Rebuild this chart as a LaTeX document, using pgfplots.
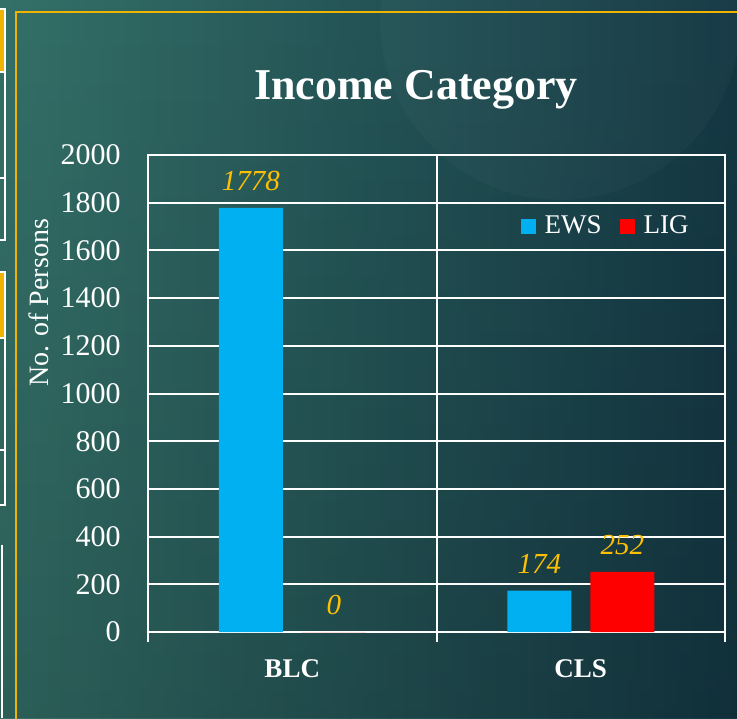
\documentclass[border=0pt]{standalone}
\usepackage{fontspec}
\setmainfont{Liberation Serif}
\usepackage{pgfplots}
\pgfplotsset{compat=1.18}
\usetikzlibrary{fadings}
\definecolor{bgleft}{RGB}{52,112,104}
\definecolor{bgright}{RGB}{20,56,68}
\definecolor{ewsc}{RGB}{0,176,240}
\definecolor{ligc}{RGB}{255,0,0}
\definecolor{lblc}{RGB}{255,192,0}
\definecolor{goldb}{RGB}{240,180,0}
\begin{document}
\begin{tikzpicture}
\clip (0,0) rectangle (368.5pt,359pt);
\shade[left color=bgleft, right color=bgright] (0,0) rectangle (368.5pt,359pt);
\fill[black, opacity=0.15, path fading=north] (0,0) rectangle (368.5pt,359pt);
\fill[white, opacity=0.022] (280pt,349pt) circle (90pt);
% left remnants
\fill[goldb] (-2pt,323pt) rectangle (2.5pt,354.5pt);
\draw[white, line width=0.6pt] (-2pt,323pt) rectangle (2.5pt,354.5pt);
\draw[white, line width=0.6pt] (-2pt,239pt) rectangle (2.5pt,323pt);
\draw[white, line width=0.6pt] (-2pt,270pt) -- (2.5pt,270pt);
\fill[goldb] (-2pt,190pt) rectangle (2.5pt,223pt);
\draw[white, line width=0.6pt] (-2pt,190pt) rectangle (2.5pt,223pt);
\draw[white, line width=0.6pt] (-2pt,106.5pt) rectangle (2.5pt,190pt);
\draw[white, line width=0.6pt] (-2pt,134pt) -- (2.5pt,134pt);
\draw[white, line width=0.6pt] (1pt,0pt) -- (1pt,86.5pt);
% gold border
\draw[goldb, line width=1pt] (7.75pt,-1pt) -- (7.75pt,353pt) -- (370pt,353pt);
\begin{axis}[
  at={(74pt,43pt)}, anchor=south west,
  scale only axis, width=288.5pt, height=238.5pt,
  xmin=-0.5, xmax=1.5, ymin=0, ymax=2000,
  ybar=9.5pt, bar width=32pt,
  xtick={0,1}, xticklabels={BLC,CLS},
  minor xtick={-0.5,0.5,1.5},
  xminorgrids=true, ymajorgrids=true,
  ytick={0,200,...,2000},
  xtick pos=bottom, ytick pos=left,
  major tick length=0pt, minor tick length=5pt,
  tick align=outside,
  axis line style={white, line width=1pt},
  every tick/.style={white, line width=1pt},
  minor grid style={white, line width=1pt},
  major grid style={white, line width=1pt},
  /pgf/number format/assume math mode=true,
  /pgf/number format/1000 sep={},
  yticklabel style={font=\fontsize{15}{17}\selectfont, text=white, anchor=east, inner sep=0pt, xshift=-13.5pt},
  xticklabel style={font=\bfseries\fontsize{13.5}{16}\selectfont, text=white, anchor=base, inner sep=0pt, yshift=-22.5pt},
  ylabel={No. of Persons},
  ylabel style={at={(axis description cs:-0.19,0.69)}, anchor=center, font=\fontsize{14}{16}\selectfont, text=white},
  nodes near coords,
  nodes near coords style={font=\itshape\fontsize{14.5}{16}\selectfont, text=lblc, anchor=south, inner sep=0pt, yshift=8.5pt},
  legend columns=2,
  legend style={at={(0.795,0.851)}, anchor=center, draw=none, fill=none, text=white,
    font=\fontsize{13.5}{16}\selectfont,
    /tikz/every even column/.append style={column sep=7pt}},
  sqlegend/.style={legend image code/.code={\fill[##1, draw=none] (0pt,-3.75pt) rectangle (7.5pt,3.75pt); \path (10pt,0pt);}},
]
\addplot[fill=ewsc, draw=none, sqlegend] coordinates {(0,1778) (1,174)};
\addplot[fill=ligc, draw=none, sqlegend] coordinates {(0,0) (1,252)};
\legend{EWS,LIG}
\end{axis}
\node[font=\bfseries\fontsize{22}{26}\selectfont, text=white, anchor=base] at (208pt,309pt) {Income Category};
\end{tikzpicture}
\end{document}
